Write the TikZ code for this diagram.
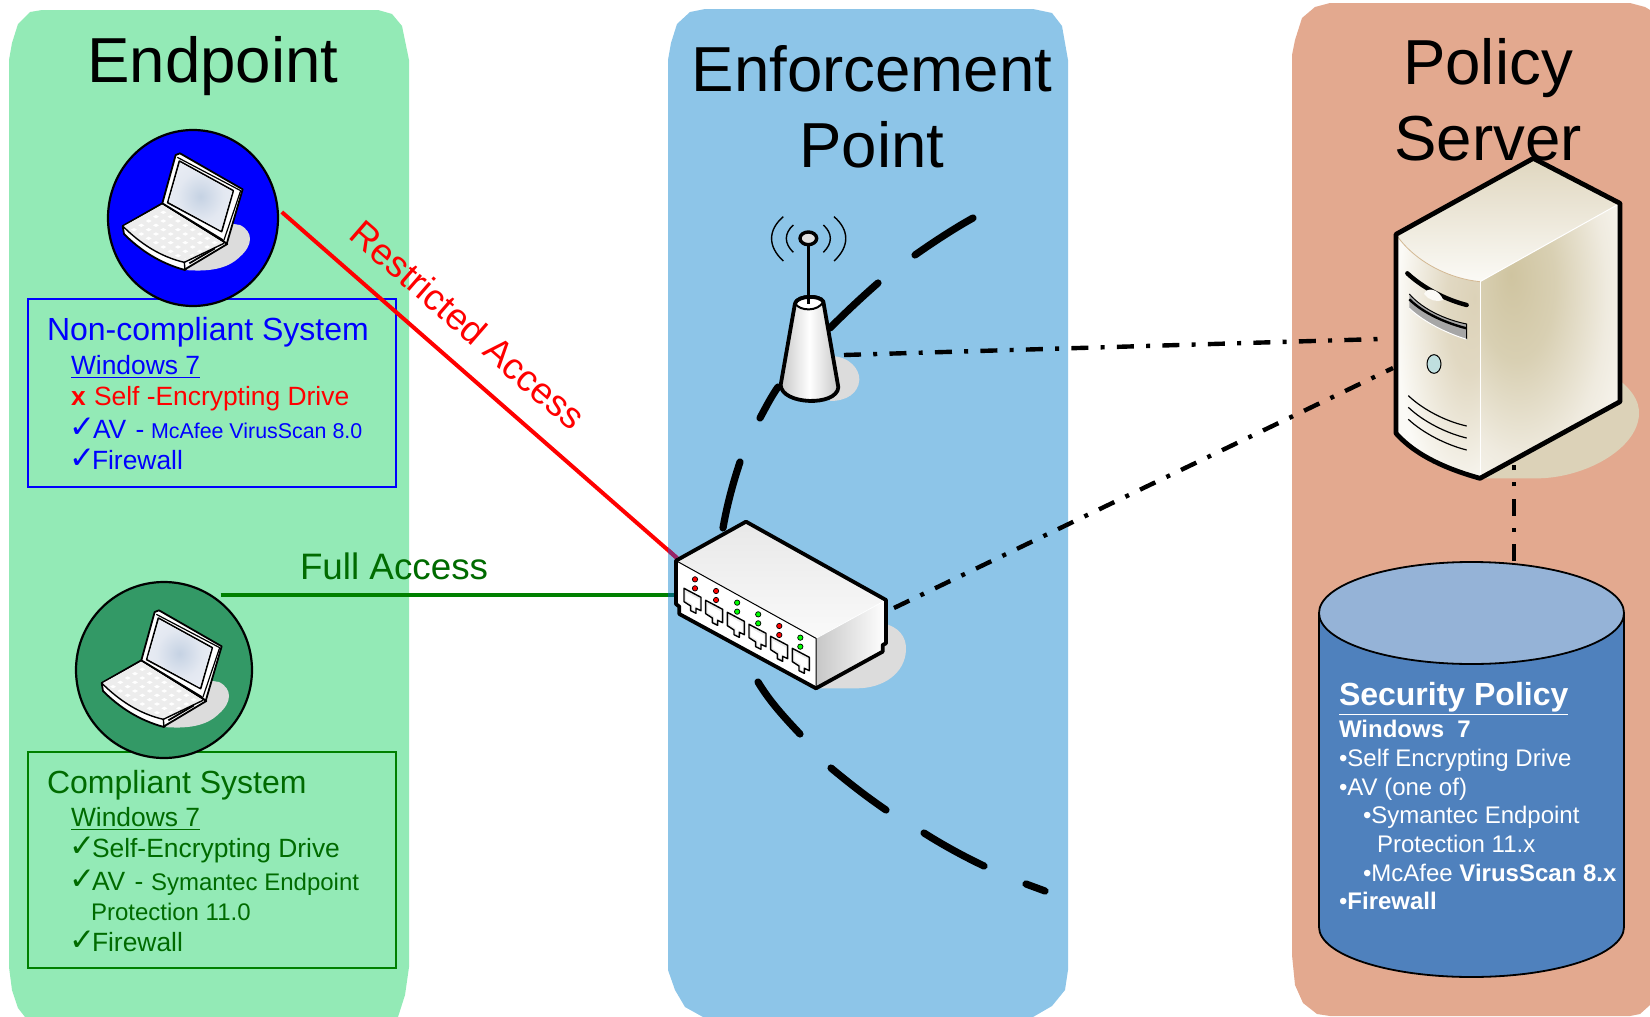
\documentclass[tikz,border=0pt]{standalone}
\usepackage{fontspec}
\setmainfont{Liberation Sans}
\newfontfamily\dejavu{DejaVu Sans}
\usetikzlibrary{shapes.geometric,calc}
\definecolor{pgreen}{HTML}{93EAB6}
\definecolor{pblue}{HTML}{8DC5E8}
\definecolor{porange}{HTML}{E3A98F}
\definecolor{dkgreen}{HTML}{006B00}
\definecolor{cyl}{HTML}{4F81BD}
\definecolor{cyltop}{HTML}{95B3D7}
\definecolor{shadowgray}{HTML}{DCDCDC}
\definecolor{cream}{HTML}{DCD2B8}
\definecolor{creamw}{HTML}{FBFAF6}
\definecolor{tansh}{HTML}{CFC4A0}
\definecolor{seagreen}{HTML}{339966}
\definecolor{lcda}{HTML}{C5D2E3}
\definecolor{lcdb}{HTML}{E3E8F1}
\definecolor{lcdc}{HTML}{F5F6FB}
\pgfdeclareradialshading{srvfront}{\pgfpoint{22bp}{12bp}}{color(0bp)=(cream); color(14bp)=(cream!85!white); color(38bp)=(creamw); color(100bp)=(creamw)}
\pgfdeclareradialshading{srvright}{\pgfpoint{-14bp}{12bp}}{color(0bp)=(tansh); color(14bp)=(tansh!80!white); color(30bp)=(cream!45!white); color(44bp)=(creamw); color(100bp)=(creamw)}
\pgfdeclareradialshading{lcd}{\pgfpoint{0bp}{0bp}}{color(0bp)=(lcda); color(18bp)=(lcdb); color(50bp)=(lcdc); color(100bp)=(lcdc)}
\tikzset{
  panel/.style={fill=#1,draw=none},
  lbl/.style={anchor=base west,inner sep=0pt,outer sep=0pt},
  title/.style={anchor=base,inner sep=0pt,font=\fontsize{31.8}{32}\selectfont},
  sys/.style={lbl,font=\fontsize{16}{16}\selectfont},
  item/.style={lbl,font=\fontsize{13.2}{14}\selectfont},
  small/.style={lbl,font=\fontsize{12}{14}\selectfont},
  tiny/.style={lbl,font=\fontsize{10.7}{12}\selectfont},
  chk/.style={lbl,font=\dejavu\fontsize{15.5}{15.5}\selectfont},
  pol/.style={lbl,text=white,font=\fontsize{12}{14}\selectfont},
  laptopdisc/.style={draw=black,line width=1.1pt,shape=ellipse,inner sep=0pt,outer sep=0pt},
  sysbox/.style={line width=1pt,fill=none},
  dd/.style={line width=2.2pt,dash pattern=on 8.5pt off 6.12pt on 2pt off 6.13pt},
  arc/.style={line width=3.6pt,line cap=round},
  iconline/.style={line width=1.9pt,line join=round},
  thinl/.style={line width=.6pt,line join=round},
  laptop/.pic={
    \fill[shadowgray] (555,510) .. controls (620,515) and (680,510) .. (720,470) .. controls (760,435) and (760,395) .. (720,375) -- (690,370) -- cycle;
    % base
    \draw[fill=white,line width=.9pt,line join=round] (368,378) -- (487,310) -- (682,432) -- (560,505) -- (555,510) .. controls (480,490) and (420,450) .. (372,402) -- cycle;
    \fill[black!7] (372,378) -- (487,315) -- (672,430) -- (553,487) .. controls (480,470) and (420,430) .. cycle;
    \begin{scope}
      \clip (380,378) -- (487,320) -- (662,430) -- (553,478) .. controls (480,462) and (425,425) .. cycle;
      \foreach \i in {0,...,7}{\foreach \j in {0,...,4}{
        \fill[white] ({490+\i*22-\j*22},{332+\i*13+\j*13}) -- ++(9,5) -- ++(-9,5) -- ++(-9,-5) -- cycle;
      }}
    \end{scope}
    \draw[line width=.7pt] (368,378) .. controls (420,430) and (480,470) .. (553,487) -- (555,510);
    \draw[line width=.7pt] (553,487) -- (672,430);
    \draw[line width=.9pt] (568,490) -- (645,445);
    % lid
    \draw[fill=white,line width=.9pt,line join=round] (487,310) -- (527,165) -- (540,160) -- (728,268) -- (680,432) -- (665,418) -- cycle;
    \draw[thinl] (532,172) -- (722,272) -- (672,420);
    \draw[fill=black!8,line width=.8pt,line join=round] (538,183) -- (700,272) -- (665,395) -- (503,308) -- cycle;
    \shade[shading=lcd] (541,188) -- (697,274) -- (662,391) -- (506,305) -- cycle;
  },
  led/.style={draw=black,line width=.35pt,fill=#1},
}
\begin{document}
\begin{tikzpicture}[x=0.5pt,y=-0.5pt]
\useasboundingbox (0,0) rectangle (1650,1017);
\fill[white] (0,0) rectangle (1650,1017);
% panels
\fill[panel=pgreen] (9,60) -- (12,43) -- (18,24) -- (30,12) -- (42,10) -- (378,10) -- (392,14) -- (402,26) -- (409,60) -- (409,967) -- (405,995) -- (398,1017) -- (25,1017) -- (18,1008) -- (12,990) -- (9,967) -- cycle;
\fill[panel=pblue] (668,60) -- (671,43) -- (677,24) -- (690,12) -- (705,9) -- (1033,9) -- (1052,13) -- (1062,26) -- (1068,60) -- (1068,970) -- (1065,990) -- (1052,1006) -- (1033,1017) -- (703,1017) -- (685,1007) -- (675,990) -- (668,970) -- cycle;
\fill[panel=porange] (1292,55) -- (1295,40) -- (1302,18) -- (1315,7) -- (1330,3) -- (1630,3) -- (1645,7) -- (1650,10) -- (1650,1005) -- (1640,1014) -- (1630,1016) -- (1330,1016) -- (1317,1014) -- (1303,1003) -- (1295,985) -- (1292,955) -- cycle;
% titles
\node[title] (t1) at (213,83) {Endpoint};
\node[title] (t2) at (872,91) {Enforcement};
\node[title] (t3) at (872,167) {Point};
\node[title] (t4) at (1488,84) {Policy};
\node[title] (t5) at (1488,160) {Server};
% boxes
\draw[sysbox,draw=blue] (28,299) rectangle (396,487);
\draw[sysbox,draw=green!50!black] (28,752) rectangle (396,968);
% discs
\node[laptopdisc,fill=blue,minimum width=85pt,minimum height=88pt] (noncomp) at (193,218) {};
\node[laptopdisc,fill=seagreen,minimum width=88pt,minimum height=88pt] (comp) at (164,670) {};
\pic[scale=1/3] at (0,100) {laptop};
\pic[scale=1/3] at (-21,557) {laptop};
% texts left
\node[sys,text=blue] (a1) at (47,340) {Non-compliant System};
\node[item,text=blue] (a2) at (71,374) {\underline{Windows 7}};
\node[item,text=red,font=\bfseries\fontsize{13.2}{14}\selectfont] (a3a) at (71,405) {x};
\node[item,text=red] (a3) at (94,405) {Self -Encrypting Drive};
\node[chk,text=blue] (a4c) at (69,437) {✓};
\node[item,text=blue] (a4) at (93,438) {AV\hspace{1pt} -};
\node[tiny,text=blue] (a4b) at (151,438) {McAfee VirusScan 8.0};
\node[chk,text=blue] (a5c) at (69,468) {✓};
\node[item,text=blue] (a5) at (92,469) {Firewall};
\node[sys,text=dkgreen] (b1) at (47,793) {Compliant System};
\node[item,text=dkgreen] (b2) at (71,826) {\underline{Windows 7}};
\node[chk,text=dkgreen] (b3c) at (69,856) {✓};
\node[item,text=dkgreen] (b3) at (92,857) {Self-Encrypting Drive};
\node[chk,text=dkgreen] (b4c) at (69,889) {✓};
\node[item,text=dkgreen] (b4) at (92,890) {AV\hspace{1pt} -};
\node[small,text=dkgreen] (b4b) at (151,890) {Symantec Endpoint};
\node[small,text=dkgreen] (b4d) at (91,920) {Protection 11.0};
\node[chk,text=dkgreen] (b5c) at (69,950) {✓};
\node[item,text=dkgreen] (b5) at (92,951) {Firewall};
% connection points
\coordinate (swred) at (677,558);
\coordinate (swgreen) at (676,595);
\coordinate (swdd) at (894,608);
\coordinate (apdd) at (844,355);
\coordinate (srv1) at (1380,339);
\coordinate (srv2) at (1393,368);
\coordinate (srv3) at (1514,465);
\coordinate (db) at (1514,561);
% arc
\draw[arc] (973,218) .. controls (955,228) and (935,241) .. (915,255);
\draw[arc] (878,283) .. controls (862,297) and (846,312) .. (830,328);
\draw[arc] (778,387) .. controls (771,397) and (766,407) .. (760,418);
\draw[arc] (740,462) .. controls (733,483) and (727,505) .. (723,528);
\draw[arc] (758,682) .. controls (770,702) and (785,718) .. (800,734);
\draw[arc] (831,768) .. controls (849,783) and (867,797) .. (886,810);
\draw[arc] (924,833) .. controls (943,845) and (963,856) .. (984,866);
\draw[arc] (1026,884) -- (1045,891);
% links
\draw[red,line width=2pt] ([xshift=2pt]noncomp.4) -- (swred);
\draw[green!50!black,line width=2pt] (comp.50 |- swgreen) -- (swgreen);
\begin{scope}
\clip (668,500) rectangle (700,620);
\draw[red!62!blue!70!gray,line width=2pt] ([xshift=2pt]noncomp.4) -- (swred);
\draw[teal!85!black,line width=2pt] (comp.50 |- swgreen) -- (swgreen);
\end{scope}
\draw[dd] (apdd) -- (srv1);
\draw[dd] (swdd) -- (srv2);
\node[lbl,anchor=center,rotate=-41,text=red,font=\fontsize{18.5}{19}\selectfont] (ra) at (468,325) {Restricted Access};
\node[lbl,text=dkgreen,font=\fontsize{18.4}{18}\selectfont] (fa) at (300,579) {Full Access};
% access point
\begin{scope}[shift={(660,200)},scale=1/3]
\fill[shadowgray] (510,468) .. controls (570,468) and (600,510) .. (598,540) .. controls (595,580) and (560,603) .. (510,603) -- cycle;
\draw[iconline,left color=black!22,right color=black!22,middle color=white] (405,310) -- (362,555) .. controls (365,615) and (530,620) .. (535,562) -- (490,305) .. controls (480,285) and (415,285) .. cycle;
\fill[white] (405,310) .. controls (420,335) and (475,335) .. (490,305) .. controls (480,285) and (415,285) .. (405,310) -- cycle;
\draw[line width=1.9pt] (405,310) .. controls (415,285) and (480,285) .. (490,305);
\draw[line width=1pt] (405,310) .. controls (420,335) and (475,335) .. (490,305);
\draw[line width=1.3pt] (446,130) -- (446,312);
\draw[line width=1.7pt,fill=black!12] (445,115) ellipse [x radius=25,y radius=19];
\draw[line width=.7pt] (400,75) .. controls (372,100) and (372,130) .. (400,157);
\draw[line width=.7pt] (370,50) .. controls (323,90) and (323,140) .. (370,183);
\draw[line width=.7pt] (490,75) .. controls (518,100) and (518,130) .. (490,157);
\draw[line width=.7pt] (522,50) .. controls (569,90) and (569,140) .. (522,183);
\end{scope}
% switch
\begin{scope}[shift={(660,200)},scale=1/3]
\fill[shadowgray] (670,1270) .. controls (715,1280) and (740,1310) .. (738,1350) .. controls (735,1420) and (670,1465) .. (590,1465) -- (480,1465) -- cycle;
\fill[white] (48,1082) -- (468,1315) -- (468,1465) -- (58,1242) -- (58,1220) -- (48,1212) -- cycle;
\shade[top color=black!9,bottom color=black!2,shading angle=0] (48,1082) -- (258,965) -- (678,1200) -- (468,1315) -- cycle;
\shade[left color=black!22,right color=white] (468,1315) -- (678,1200) -- (678,1330) -- (668,1335) -- (668,1355) -- (468,1465) -- cycle;
\draw[line width=.4pt,white] (468,1315) -- (678,1200);
\draw[line width=.5pt] (48,1082) -- (468,1315) -- (468,1465);
\draw[iconline] (48,1212) -- (48,1082) -- (258,965) -- (678,1200) -- (678,1330) -- (668,1335) -- (668,1355) -- (468,1465) -- (58,1242) -- (58,1220) -- cycle;
\foreach \n/\c in {0/red,1/red,2/green,3/green,4/red,5/green}{
  \begin{scope}[shift={({\n*65},{\n*36})}]
    \draw[fill=black!8,line width=.7pt,line join=round] (72,1165) -- (123,1192) -- (123,1232) -- (108,1225) -- (108,1240) -- (92,1232) -- (92,1218) -- (72,1205) -- cycle;
    \fill[white] (78,1177) -- (118,1199) -- (118,1226) -- (104,1218) -- (104,1232) -- (97,1228) -- (97,1213) -- (78,1201) -- cycle;
  \end{scope}
  \draw[led=\c] ({105+\n*63.2},{1138+\n*35}) circle [radius=8];
  \draw[led=\c] ({105+\n*63.2},{1165+\n*35}) circle [radius=8];
}
\end{scope}
% server
\begin{scope}[shift={(1290,140)},scale=1/3]
\fill[cream] (960,700) .. controls (1020,740) and (1050,780) .. (1047,825) .. controls (1040,930) and (880,1015) .. (740,1015) -- (570,1015) -- cycle;
\shade[shading=srvfront] (318,283) .. controls (370,360) and (470,415) .. (570,425) -- (570,1015) .. controls (480,990) and (380,950) .. (318,880) -- cycle;
\shade[shading=srvright] (570,425) -- (990,190) -- (990,785) -- (570,1015) -- cycle;
\shade[top color=cream!90!white,bottom color=creamw,shading angle=0] (318,283) -- (730,55) -- (990,190) -- (570,425) .. controls (470,415) and (370,360) .. cycle;
\draw[line width=.4pt,cream!70!brown] (318,283) .. controls (370,360) and (470,415) .. (570,425);
\draw[line width=.5pt,white] (570,425) -- (990,190);
\draw[line width=.4pt,white] (570,425) -- (570,1015);
\draw[line width=2.4pt,line join=round] (318,283) -- (730,55) -- (990,190) -- (990,785) -- (570,1015) .. controls (480,990) and (380,950) .. (318,880) -- cycle;
\draw[line width=2.2pt,line cap=round] (352,400) .. controls (400,445) and (470,480) .. (530,495);
\fill[creamw] (402,462) .. controls (410,440) and (445,445) .. (460,480) .. controls (440,488) and (415,480) .. cycle;
\fill[black!35] (358,462) .. controls (400,510) and (470,540) .. (530,552) -- (530,598) .. controls (470,580) and (400,545) .. (358,505) -- cycle;
\draw[line width=1.2pt] (358,478) .. controls (400,520) and (470,550) .. (530,565);
\draw[line width=.5pt] (358,462) .. controls (400,510) and (470,540) .. (530,552) -- (530,598);
\draw[line width=.5pt,white] (358,505) .. controls (400,545) and (470,580) .. (530,598);
\draw[line width=.5pt,fill=teal!25] (432,672) ellipse [x radius=21,y radius=28];
\draw[line width=.6pt] (355,767) .. controls (400,810) and (470,845) .. (530,858);
\draw[line width=.6pt] (355,802) .. controls (400,845) and (470,880) .. (530,894);
\draw[line width=.6pt] (355,838) .. controls (400,880) and (470,915) .. (530,930);
\end{scope}
\draw[dd] (db) -- (srv3);
% database
\draw[line width=.9pt,fill=cyl] (1319,613) -- (1319,927) arc [start angle=180,end angle=0,x radius=152.5,y radius=50] -- (1624,613) -- cycle;
\draw[line width=.9pt,fill=cyltop] (1471.5,613) ellipse [x radius=152.5,y radius=51];
\node[pol,font=\bfseries\fontsize{16}{16}\selectfont] (c1) at (1339,705) {\underline{Security Policy}};
\node[pol,font=\bfseries\fontsize{12}{14}\selectfont] (c2) at (1339,737) {Windows\ \ 7};
\node[pol] (c3) at (1339,766) {•Self Encrypting Drive};
\node[pol] (c4) at (1339,795) {•AV (one of)};
\node[pol] (c5) at (1363,823) {•Symantec Endpoint};
\node[pol] (c6) at (1377,852) {Protection 11.x};
\node[pol] (c7) at (1363,881) {•McAfee \textbf{VirusScan 8.x}};
\node[pol] (c8) at (1339,909) {•\textbf{Firewall}};
\end{tikzpicture}
\end{document}
